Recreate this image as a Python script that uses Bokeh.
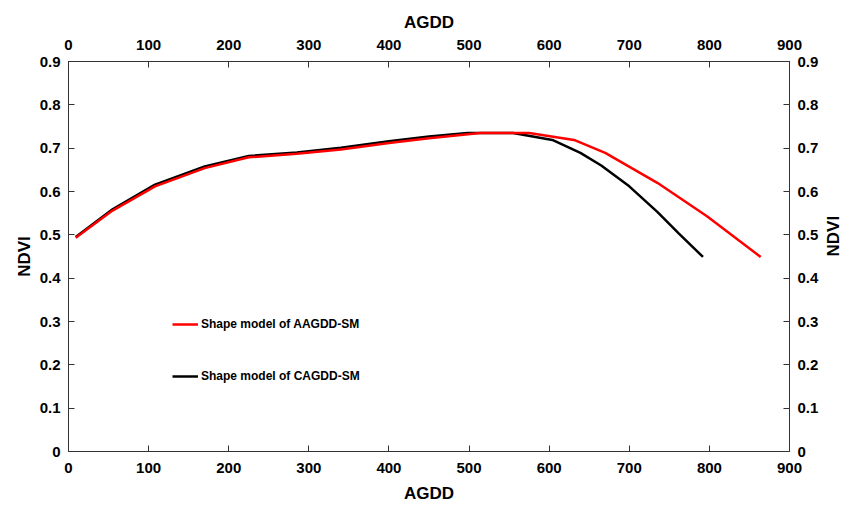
import math
from bokeh.plotting import figure
from bokeh.models import LinearAxis, FixedTicker, Range1d, Legend, LegendItem
from bokeh.embed import file_html
from bokeh.resources import INLINE

# Data
red_x = [9, 55, 108, 170, 225, 285, 340, 400, 450, 514, 575, 631, 670, 735, 797, 864]
red_y = [0.493, 0.556, 0.612, 0.654, 0.679, 0.687, 0.697, 0.712, 0.723, 0.735, 0.735, 0.719, 0.689, 0.620, 0.543, 0.449]

black_x = [9, 55, 108, 170, 225, 285, 340, 400, 450, 498, 555, 604, 639, 665, 700, 735, 762, 792]
black_y = [0.495, 0.559, 0.616, 0.658, 0.682, 0.690, 0.701, 0.716, 0.727, 0.735, 0.735, 0.719, 0.689, 0.660, 0.612, 0.553, 0.503, 0.449]

x_ticks = [0, 100, 200, 300, 400, 500, 600, 700, 800, 900]
y_ticks = [0, 0.1, 0.2, 0.3, 0.4, 0.5, 0.6, 0.7, 0.8, 0.9]
y_tick_labels = {0: "0", 0.1: "0.1", 0.2: "0.2", 0.3: "0.3", 0.4: "0.4",
                 0.5: "0.5", 0.6: "0.6", 0.7: "0.7", 0.8: "0.8", 0.9: "0.9"}
x_label = "AGDD"
y_label = "NDVI"
red_name = "Shape model of AAGDD-SM"
black_name = "Shape model of CAGDD-SM"

FONT = "Liberation Sans"
AXIS_COLOR = "#333333"

p = figure(width=855, height=505, output_backend="svg", toolbar_location=None,
           x_range=Range1d(0, 900), y_range=Range1d(0, 0.9),
           x_axis_location=None, y_axis_location=None,
           min_border_left=68, min_border_right=54, min_border_top=61, min_border_bottom=53)

p.xgrid.visible = False
p.ygrid.visible = False
p.outline_line_color = AXIS_COLOR
p.background_fill_color = "white"
p.border_fill_color = "white"

bottom_axis = LinearAxis()
top_axis = LinearAxis()
left_axis = LinearAxis()
right_axis = LinearAxis()
p.add_layout(bottom_axis, "below")
p.add_layout(top_axis, "above")
p.add_layout(left_axis, "left")
p.add_layout(right_axis, "right")

for ax in [bottom_axis, top_axis]:
    ax.ticker = FixedTicker(ticks=x_ticks)
    ax.axis_label = x_label
for ax in [left_axis, right_axis]:
    ax.ticker = FixedTicker(ticks=y_ticks)
    ax.major_label_overrides = y_tick_labels
    ax.axis_label = y_label

for ax in [bottom_axis, top_axis, left_axis, right_axis]:
    ax.axis_line_color = AXIS_COLOR
    ax.major_tick_line_color = AXIS_COLOR
    ax.major_tick_in = 6
    ax.major_tick_out = 0
    ax.minor_tick_line_color = None
    ax.major_label_text_font = FONT
    ax.major_label_text_font_style = "bold"
    ax.major_label_text_font_size = "15px"
    ax.major_label_text_color = "black"
    ax.axis_label_text_font = FONT
    ax.axis_label_text_font_style = "bold"
    ax.axis_label_text_font_size = "17px"
    ax.axis_label_text_color = "black"
    ax.major_label_standoff = 8
    ax.axis_label_standoff = 3

bottom_axis.major_label_standoff = 11
bottom_axis.axis_label_standoff = 8
top_axis.major_label_standoff = 12
top_axis.axis_label_standoff = 5

# Right-hand NDVI label reads bottom-to-top, like the left one
right_axis.axis_label_orientation = math.pi / 2
right_axis.axis_label_standoff = 12

lb = p.line(black_x, black_y, line_color="black", line_width=2.5)
lr = p.line(red_x, red_y, line_color="#ff0000", line_width=2.5)

legend = Legend(items=[LegendItem(label=red_name, renderers=[lr]),
                       LegendItem(label=black_name, renderers=[lb])],
                location=(94, 55), orientation="vertical",
                spacing=32, padding=10, margin=0,
                glyph_width=26, glyph_height=20, label_height=20,
                label_standoff=3,
                label_text_font=FONT, label_text_font_style="bold",
                label_text_font_size="12px", label_text_color="black",
                background_fill_alpha=0, border_line_alpha=0)
p.add_layout(legend, "center")

open("out.html", "w").write(file_html(p, INLINE))
